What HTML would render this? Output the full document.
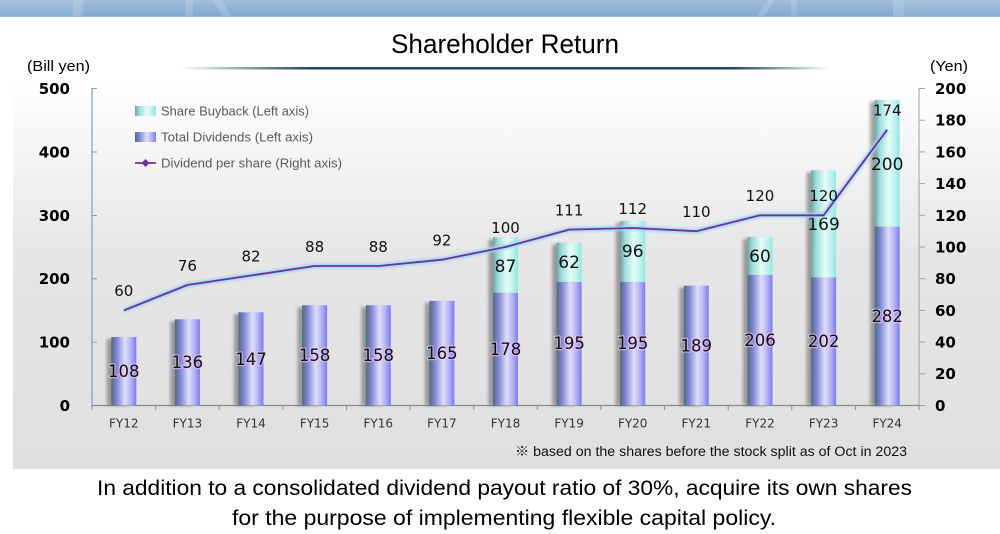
<!DOCTYPE html>
<html><head><meta charset="utf-8"><style>
html,body{margin:0;padding:0;background:#fff;}
svg{display:block;}
</style></head><body>
<svg width="1000" height="534" viewBox="0 0 1000 534" xmlns="http://www.w3.org/2000/svg">
<defs>
<linearGradient id="band" x1="0" y1="0" x2="0" y2="1">
<stop offset="0" stop-color="#a3bddb"/><stop offset="1" stop-color="#7ea8cf"/>
</linearGradient>
<linearGradient id="panel" x1="0" y1="0" x2="0" y2="1">
<stop offset="0" stop-color="#ffffff"/><stop offset="0.45" stop-color="#e6e6e6"/><stop offset="1" stop-color="#dfdfdf"/>
</linearGradient>
<linearGradient id="uline" x1="0" y1="0" x2="1" y2="0">
<stop offset="0" stop-color="#1e4a5a" stop-opacity="0"/><stop offset="0.2" stop-color="#1e4a5a" stop-opacity="1"/><stop offset="0.85" stop-color="#1e4a5a" stop-opacity="1"/><stop offset="1" stop-color="#1e4a5a" stop-opacity="0"/>
</linearGradient>
<linearGradient id="div" x1="0" y1="0" x2="1" y2="0">
<stop offset="0" stop-color="#506a80"/><stop offset="0.22" stop-color="#7f86d6"/><stop offset="0.55" stop-color="#dedefa"/><stop offset="0.78" stop-color="#b4b4f4"/><stop offset="1" stop-color="#7a7af2"/>
</linearGradient>
<linearGradient id="buy" x1="0" y1="0" x2="1" y2="0">
<stop offset="0" stop-color="#6fa2aa"/><stop offset="0.2" stop-color="#9edcda"/><stop offset="0.55" stop-color="#e6fcf6"/><stop offset="0.8" stop-color="#bff2ee"/><stop offset="1" stop-color="#8ee8e6"/>
</linearGradient>
<filter id="blur" x="-50%" y="-50%" width="200%" height="200%"><feGaussianBlur stdDeviation="1.5"/></filter>
<filter id="blur2" x="-20%" y="-20%" width="140%" height="140%"><feGaussianBlur stdDeviation="1.2"/></filter>
</defs>

<!-- top band -->
<rect x="0" y="0" width="1000" height="17" fill="url(#band)"/>
<rect x="0" y="0" width="80" height="17" fill="#ffffff" opacity="0.08"/>
<rect x="73" y="0" width="10" height="17" fill="#ffffff" opacity="0.15"/>
<rect x="186" y="0" width="7" height="17" fill="#ffffff" opacity="0.15"/>
<polygon points="212,0 222,0 232,17 224,17" fill="#ffffff" opacity="0.15"/>
<polygon points="768,0 775,0 764,17 756,17" fill="#ffffff" opacity="0.15"/>
<rect x="791" y="0" width="6" height="17" fill="#ffffff" opacity="0.15"/>
<rect x="893" y="0" width="11" height="17" fill="#ffffff" opacity="0.18"/>
<rect x="904" y="0" width="96" height="17" fill="#ffffff" opacity="0.08"/>
<rect x="0" y="16" width="1000" height="1" fill="#9fb9d6"/>

<!-- title -->
<text x="505" y="53" text-anchor="middle" font-family="Liberation Sans, sans-serif" font-size="27" fill="#000" textLength="228" lengthAdjust="spacingAndGlyphs">Shareholder Return</text>
<rect x="180" y="67" width="650" height="2.5" fill="url(#uline)"/>

<!-- panel -->
<rect x="13" y="80" width="987" height="389" fill="url(#panel)"/>

<!-- unit labels -->
<text x="27" y="71" font-family="Liberation Sans, sans-serif" font-size="15" fill="#000" textLength="63" lengthAdjust="spacingAndGlyphs">(Bill yen)</text>
<text x="930" y="71" font-family="Liberation Sans, sans-serif" font-size="15" fill="#000" textLength="38" lengthAdjust="spacingAndGlyphs">(Yen)</text>

<!-- axes -->
<g font-family="DejaVu Sans, sans-serif" font-size="15" font-weight="bold" fill="#000">
<text x="70" y="94" text-anchor="end">500</text>
<text x="70" y="157.5" text-anchor="end">400</text>
<text x="70" y="221" text-anchor="end">300</text>
<text x="70" y="284" text-anchor="end">200</text>
<text x="70" y="347.5" text-anchor="end">100</text>
<text x="70" y="411" text-anchor="end">0</text>
<text x="935" y="94">200</text>
<text x="935" y="125.5">180</text>
<text x="935" y="157.5">160</text>
<text x="935" y="189">140</text>
<text x="935" y="221">120</text>
<text x="935" y="252.5">100</text>
<text x="935" y="284">80</text>
<text x="935" y="316">60</text>
<text x="935" y="347.5">40</text>
<text x="935" y="379">20</text>
<text x="935" y="411">0</text>
</g>
<line x1="92" y1="88" x2="92" y2="405.5" stroke="#7d9bcb" stroke-width="1.2"/>
<g stroke="#7d9bcb" stroke-width="1">
<line x1="92" y1="88.5" x2="97" y2="88.5"/><line x1="92" y1="152" x2="97" y2="152"/><line x1="92" y1="215.5" x2="97" y2="215.5"/><line x1="92" y1="278.8" x2="97" y2="278.8"/><line x1="92" y1="342.2" x2="97" y2="342.2"/>
</g>
<line x1="919" y1="88" x2="919" y2="405.5" stroke="#a0a0a0" stroke-width="1"/>
<g stroke="#a0a0a0" stroke-width="1">
<line x1="919" y1="88.5" x2="925" y2="88.5"/><line x1="919" y1="120.2" x2="925" y2="120.2"/><line x1="919" y1="151.9" x2="925" y2="151.9"/><line x1="919" y1="183.6" x2="925" y2="183.6"/><line x1="919" y1="215.3" x2="925" y2="215.3"/><line x1="919" y1="247" x2="925" y2="247"/><line x1="919" y1="278.7" x2="925" y2="278.7"/><line x1="919" y1="310.4" x2="925" y2="310.4"/><line x1="919" y1="342.1" x2="925" y2="342.1"/><line x1="919" y1="373.8" x2="925" y2="373.8"/><line x1="919" y1="405.5" x2="925" y2="405.5"/>
</g>
<line x1="92" y1="405.5" x2="919" y2="405.5" stroke="#8a8a8a" stroke-width="1.2"/>
<g stroke="#8a8a8a" stroke-width="1">
<line x1="92" y1="405.5" x2="92" y2="410"/><line x1="155.6" y1="405.5" x2="155.6" y2="410"/><line x1="219.2" y1="405.5" x2="219.2" y2="410"/><line x1="282.8" y1="405.5" x2="282.8" y2="410"/><line x1="346.5" y1="405.5" x2="346.5" y2="410"/><line x1="410.1" y1="405.5" x2="410.1" y2="410"/><line x1="473.7" y1="405.5" x2="473.7" y2="410"/><line x1="537.3" y1="405.5" x2="537.3" y2="410"/><line x1="600.9" y1="405.5" x2="600.9" y2="410"/><line x1="664.5" y1="405.5" x2="664.5" y2="410"/><line x1="728.2" y1="405.5" x2="728.2" y2="410"/><line x1="791.8" y1="405.5" x2="791.8" y2="410"/><line x1="855.4" y1="405.5" x2="855.4" y2="410"/><line x1="919" y1="405.5" x2="919" y2="410"/>
</g>

<!-- category labels -->
<g font-family="DejaVu Sans, sans-serif" font-size="12" fill="#333" text-anchor="middle">
<text x="123.8" y="427.5">FY12</text><text x="187.4" y="427.5">FY13</text><text x="251" y="427.5">FY14</text><text x="314.6" y="427.5">FY15</text><text x="378.3" y="427.5">FY16</text><text x="441.9" y="427.5">FY17</text><text x="505.5" y="427.5">FY18</text><text x="569.1" y="427.5">FY19</text><text x="632.7" y="427.5">FY20</text><text x="696.3" y="427.5">FY21</text><text x="760" y="427.5">FY22</text><text x="823.6" y="427.5">FY23</text><text x="887.2" y="427.5">FY24</text>
</g>

<!-- bar shadows -->
<g fill="#5a5a5a" opacity="0.55" filter="url(#blur)">
<rect x="106.8" y="339" width="22" height="66.5"/>
<rect x="170.4" y="321.3" width="22" height="84.2"/>
<rect x="234" y="314.3" width="22" height="91.2"/>
<rect x="297.6" y="307.3" width="22" height="98.2"/>
<rect x="361.3" y="307.3" width="22" height="98.2"/>
<rect x="424.9" y="302.9" width="22" height="102.6"/>
<rect x="488.5" y="239.5" width="22" height="166"/>
<rect x="552.1" y="244.6" width="22" height="160.9"/>
<rect x="615.7" y="223" width="22" height="182.5"/>
<rect x="679.3" y="287.7" width="22" height="117.8"/>
<rect x="743" y="238.9" width="22" height="166.6"/>
<rect x="806.6" y="172.3" width="22" height="233.2"/>
<rect x="870.2" y="101.9" width="22" height="303.6"/>
</g>

<!-- dividend bars -->
<g fill="url(#div)">
<rect x="111.3" y="337" width="25" height="68.5"/>
<rect x="174.9" y="319.3" width="25" height="86.2"/>
<rect x="238.5" y="312.3" width="25" height="93.2"/>
<rect x="302.1" y="305.3" width="25" height="100.2"/>
<rect x="365.8" y="305.3" width="25" height="100.2"/>
<rect x="429.4" y="300.9" width="25" height="104.6"/>
<rect x="493" y="292.7" width="25" height="112.8"/>
<rect x="556.6" y="281.9" width="25" height="123.6"/>
<rect x="620.2" y="281.9" width="25" height="123.6"/>
<rect x="683.8" y="285.7" width="25" height="119.8"/>
<rect x="747.5" y="274.9" width="25" height="130.6"/>
<rect x="811.1" y="277.4" width="25" height="128.1"/>
<rect x="874.7" y="226.7" width="25" height="178.8"/>
</g>
<!-- buyback bars -->
<g fill="url(#buy)">
<rect x="493" y="237.5" width="25" height="55.2"/>
<rect x="556.6" y="242.6" width="25" height="39.3"/>
<rect x="620.2" y="221" width="25" height="60.9"/>
<rect x="747.5" y="236.9" width="25" height="38"/>
<rect x="811.1" y="170.3" width="25" height="107.1"/>
<rect x="874.7" y="99.9" width="25" height="126.8"/>
</g>

<!-- dividend labels -->
<g font-family="DejaVu Sans, sans-serif" font-size="16.5" fill="#111" text-anchor="middle" stroke="#f2c6f2" stroke-width="2.5" stroke-opacity="0.6" paint-order="stroke" stroke-linejoin="round">
<text x="123.8" y="377">108</text>
<text x="187.4" y="368">136</text>
<text x="251" y="365">147</text>
<text x="314.6" y="361">158</text>
<text x="378.3" y="361">158</text>
<text x="441.9" y="359">165</text>
<text x="505.5" y="355">178</text>
<text x="569.1" y="349">195</text>
<text x="632.7" y="349">195</text>
<text x="696.3" y="351.5">189</text>
<text x="760" y="346">206</text>
<text x="823.6" y="347">202</text>
<text x="887.2" y="322">282</text>
</g>
<!-- buyback labels -->
<g font-family="DejaVu Sans, sans-serif" font-size="17" fill="#111" text-anchor="middle">
<text x="505.5" y="272">87</text>
<text x="569.1" y="268">62</text>
<text x="632.7" y="257">96</text>
<text x="760" y="262">60</text>
<text x="823.6" y="230">169</text>
<text x="887.2" y="170">200</text>
</g>

<!-- DPS line -->
<polyline points="123.8,310.4 187.4,285 251,275.5 314.6,266 378.3,266 441.9,259.7 505.5,247 569.1,229.6 632.7,228 696.3,231.2 760,215.3 823.6,215.3 887.2,129.7" fill="none" stroke="#9fd6f2" stroke-width="5" stroke-linejoin="round" filter="url(#blur2)"/>
<polyline points="123.8,310.4 187.4,285 251,275.5 314.6,266 378.3,266 441.9,259.7 505.5,247 569.1,229.6 632.7,228 696.3,231.2 760,215.3 823.6,215.3 887.2,129.7" fill="none" stroke="#7030a0" stroke-width="1.8" stroke-linejoin="round"/>

<!-- DPS labels -->
<g font-family="DejaVu Sans, sans-serif" font-size="15" fill="#111" text-anchor="middle">
<text x="123.8" y="296">60</text>
<text x="187.4" y="271">76</text>
<text x="251" y="261.5">82</text>
<text x="314.6" y="252">88</text>
<text x="378.3" y="252">88</text>
<text x="441.9" y="245.5">92</text>
<text x="505.5" y="233">100</text>
<text x="569.1" y="215.5">111</text>
<text x="632.7" y="214">112</text>
<text x="696.3" y="217">110</text>
<text x="760" y="201">120</text>
<text x="823.6" y="201">120</text>
<text x="887.2" y="115.5">174</text>
</g>

<!-- legend -->
<rect x="135" y="106" width="21" height="10" fill="url(#buy)"/>
<rect x="135" y="132" width="21" height="10" fill="url(#div)"/>
<line x1="135" y1="163" x2="156" y2="163" stroke="#7030a0" stroke-width="1.8"/>
<polygon points="145.5,159 149.5,163 145.5,167 141.5,163" fill="#7030a0"/>
<g font-family="Liberation Sans, sans-serif" font-size="13" fill="#595959">
<text x="161" y="115.5" textLength="148" lengthAdjust="spacingAndGlyphs">Share Buyback (Left axis)</text>
<text x="161" y="141.5" textLength="152" lengthAdjust="spacingAndGlyphs">Total Dividends (Left axis)</text>
<text x="161" y="167.5" textLength="181" lengthAdjust="spacingAndGlyphs">Dividend per share (Right axis)</text>
</g>

<!-- note -->
<text x="515" y="456" font-family="Liberation Sans, 'Noto Sans CJK JP', sans-serif" font-size="13.5" fill="#111" textLength="392" lengthAdjust="spacingAndGlyphs">※ based on the shares before the stock split as of Oct in 2023</text>

<!-- bottom text -->
<g font-family="Liberation Sans, sans-serif" font-size="21" fill="#000">
<text x="97" y="495" textLength="815" lengthAdjust="spacingAndGlyphs">In addition to a consolidated dividend payout ratio of 30%, acquire its own shares</text>
<text x="232" y="525" textLength="544" lengthAdjust="spacingAndGlyphs">for the purpose of implementing flexible capital policy.</text>
</g>
</svg>
</body></html>
